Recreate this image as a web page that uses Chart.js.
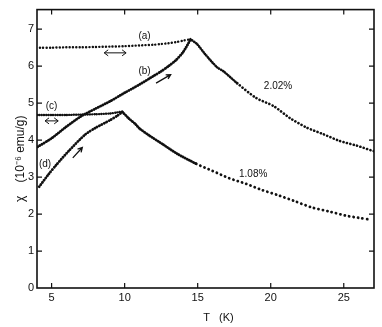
<!DOCTYPE html>
<html><head><meta charset="utf-8">
<script src="https://cdn.jsdelivr.net/npm/chart.js@4.4.0/dist/chart.umd.min.js"></script>
<style>html,body{margin:0;padding:0;background:#fff;}#wrap{width:382px;height:327px;position:relative;}</style>
</head><body><div id="wrap"><canvas id="c" width="382" height="327"></canvas></div>
<script>
// Curve (a): 2.02% sample, flat branch
const T_a   = [4.2, 5, 6, 7, 8, 9, 10, 11, 12, 12.5, 13, 13.5, 14, 14.5];
const chi_a = [6.50, 6.50, 6.51, 6.51, 6.52, 6.53, 6.54, 6.56, 6.58, 6.60, 6.62, 6.65, 6.69, 6.73];
// Curve (b): 2.02% sample, rising branch
const T_b   = [4.05, 5, 6, 7, 8, 9, 10, 11, 12, 12.5, 13, 13.5, 14, 14.5];
const chi_b = [3.82, 4.05, 4.36, 4.64, 4.85, 5.05, 5.28, 5.50, 5.74, 5.86, 6.00, 6.16, 6.38, 6.71];
// 2.02% above the peak
const T_h   = [14.5, 14.95, 15.5, 16.3, 16.8, 17.7, 19.0, 20.2, 21.3, 22.45, 23.6, 24.7, 25.9, 26.9, 27.07];
const chi_h = [6.73, 6.60, 6.33, 5.98, 5.85, 5.54, 5.14, 4.92, 4.60, 4.34, 4.16, 3.98, 3.85, 3.72, 3.70];
// Curve (c): 1.08% sample, flat branch
const T_c   = [4.0, 5, 6, 7, 8, 9, 9.5, 9.85];
const chi_c = [4.68, 4.68, 4.68, 4.69, 4.70, 4.72, 4.75, 4.77];
// Curve (d): 1.08% sample, rising branch
const T_d   = [4.15, 4.8, 5.3, 6.2, 7.3, 8.0, 9.0, 9.5, 9.85];
const chi_d = [2.74, 3.08, 3.32, 3.72, 4.15, 4.33, 4.54, 4.66, 4.76];
// 1.08% above the peak
const T_l   = [9.85, 10.3, 10.75, 11.0, 11.7, 12.6, 13.6, 14.9, 16.0, 17.15, 18.3, 19.4, 20.5, 21.7, 22.8, 24.0, 25.1, 26.0, 26.8];
const chi_l = [4.76, 4.58, 4.43, 4.32, 4.12, 3.89, 3.63, 3.36, 3.17, 2.97, 2.82, 2.65, 2.51, 2.34, 2.18, 2.07, 1.96, 1.90, 1.85];

const xTicks = [5, 10, 15, 20, 25];
const yTicks = [0, 1, 2, 3, 4, 5, 6, 7];

const notes = [
  {text:'(a)', T:11.36, chi:6.81},
  {text:'(b)', T:11.36, chi:5.86},
  {text:'(c)', T:5.0, chi:4.92},
  {text:'(d)', T:4.55, chi:3.36},
  {text:'2.02%', T:20.5, chi:5.46},
  {text:'1.08%', T:18.8, chi:3.09}
];
const dblArrows = [
  {T1:8.6, T2:10.1, chi:6.36},
  {T1:4.55, T2:5.45, chi:4.52}
];
const arrows = [
  {T1:12.15, c1:5.54, T2:13.15, c2:5.77},
  {T1:6.45, c1:3.52, T2:7.1, c2:3.80}
];

const pts = (xs, ys) => xs.map((x, i) => ({x: x, y: ys[i]}));
function ds(xs, ys, dash, w, denseUntil) {
  const d = {data: pts(xs, ys), borderColor: '#111', backgroundColor: '#111', borderWidth: w,
    borderDash: dash, borderCapStyle: 'round', pointRadius: 0, tension: 0.25, fill: false};
  if (denseUntil) {
    d.segment = {borderDash: c => (c.p0.parsed.x < denseUntil ? [0.1, 2.2] : dash)};
  }
  return d;
}

const deco = {
  id: 'deco',
  afterDraw(chart) {
    const ctx = chart.ctx, a = chart.chartArea, xs = chart.scales.x, ys = chart.scales.y;
    ctx.save();
    ctx.strokeStyle = '#111'; ctx.fillStyle = '#111';
    ctx.lineWidth = 1.6;
    ctx.strokeRect(a.left, a.top, a.right - a.left, a.bottom - a.top);
    ctx.lineWidth = 1.2;
    ctx.beginPath();
    xTicks.forEach(v => {
      const p = xs.getPixelForValue(v);
      ctx.moveTo(p, a.bottom); ctx.lineTo(p, a.bottom - 5);
      ctx.moveTo(p, a.top); ctx.lineTo(p, a.top + 5);
    });
    yTicks.forEach(v => {
      if (v === 0) return;
      const p = ys.getPixelForValue(v);
      ctx.moveTo(a.left, p); ctx.lineTo(a.left + 5, p);
      ctx.moveTo(a.right, p); ctx.lineTo(a.right - 5, p);
    });
    ctx.stroke();
    ctx.font = '10px "Liberation Sans", Arial, sans-serif';
    ctx.textAlign = 'center'; ctx.textBaseline = 'middle';
    notes.forEach(n => ctx.fillText(n.text, xs.getPixelForValue(n.T), ys.getPixelForValue(n.chi)));
    ctx.lineWidth = 1;
    dblArrows.forEach(d => {
      const x1 = xs.getPixelForValue(d.T1), x2 = xs.getPixelForValue(d.T2), y = ys.getPixelForValue(d.chi);
      ctx.beginPath();
      ctx.moveTo(x1, y); ctx.lineTo(x2, y);
      ctx.moveTo(x1 + 4, y - 3); ctx.lineTo(x1, y); ctx.lineTo(x1 + 4, y + 3);
      ctx.moveTo(x2 - 4, y - 3); ctx.lineTo(x2, y); ctx.lineTo(x2 - 4, y + 3);
      ctx.stroke();
    });
    ctx.lineWidth = 1.3;
    arrows.forEach(d => {
      const x1 = xs.getPixelForValue(d.T1), y1 = ys.getPixelForValue(d.c1);
      const x2 = xs.getPixelForValue(d.T2), y2 = ys.getPixelForValue(d.c2);
      const ang = Math.atan2(y2 - y1, x2 - x1);
      ctx.beginPath();
      ctx.moveTo(x1, y1); ctx.lineTo(x2, y2);
      ctx.moveTo(x2 - 5 * Math.cos(ang - 0.5), y2 - 5 * Math.sin(ang - 0.5));
      ctx.lineTo(x2, y2);
      ctx.lineTo(x2 - 5 * Math.cos(ang + 0.5), y2 - 5 * Math.sin(ang + 0.5));
      ctx.stroke();
    });
    ctx.font = '11px "Liberation Sans", Arial, sans-serif';
    ctx.fillText('T   (K)', (a.left + a.right) / 2 + 13, a.bottom + 30);
    ctx.font = '12px "Liberation Sans", Arial, sans-serif';
    ctx.translate(21, (a.top + a.bottom) / 2 + 10);
    ctx.rotate(-Math.PI / 2);
    ctx.fillText('χ    (10⁻⁶ emu/g)', 0, 0);
    ctx.restore();
  }
};

new Chart(document.getElementById('c'), {
  type: 'line',
  data: {
    datasets: [
      ds(T_a, chi_a, [0.1, 3.2], 2.4),
      ds(T_b, chi_b, [0.1, 2.4], 2.8),
      ds(T_h, chi_h, [0.1, 3.4], 2.6, 17),
      ds(T_c, chi_c, [0.1, 2.2], 2.4),
      ds(T_d, chi_d, [0.1, 2.6], 2.8),
      ds(T_l, chi_l, [0.1, 4.4], 2.8, 14)
    ]
  },
  options: {
    responsive: false,
    animation: false,
    devicePixelRatio: 1,
    layout: {padding: {top: 5, right: 8, left: 0, bottom: 0}},
    plugins: {legend: {display: false}, tooltip: {enabled: false}},
    scales: {
      x: {
        type: 'linear', min: 4, max: 27.07,
        afterBuildTicks: s => { s.ticks = xTicks.map(v => ({value: v})); },
        afterFit: s => { s.height = 39; },
        grid: {display: false, drawTicks: false},
        border: {display: false},
        ticks: {padding: 3, color: '#111', font: {family: '"Liberation Sans", Arial, sans-serif', size: 11}}
      },
      y: {
        type: 'linear', min: 0, max: 7.53,
        afterBuildTicks: s => { s.ticks = yTicks.map(v => ({value: v})); },
        afterFit: s => { s.width = 37; },
        grid: {display: false, drawTicks: false},
        border: {display: false},
        ticks: {padding: 3, color: '#111', font: {family: '"Liberation Sans", Arial, sans-serif', size: 11}}
      }
    }
  },
  plugins: [deco]
});
</script>
</body></html>
